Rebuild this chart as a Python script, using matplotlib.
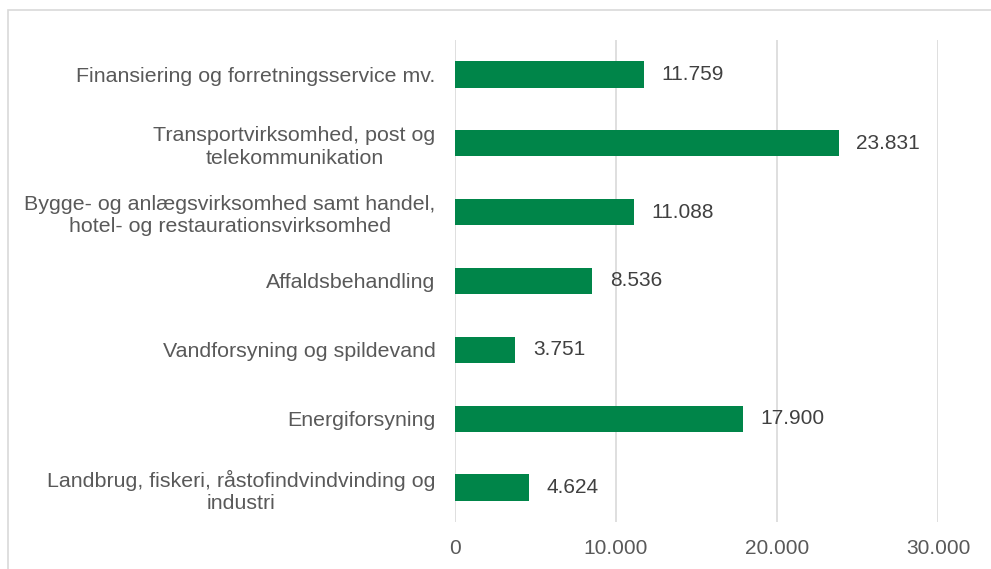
import matplotlib
matplotlib.use("Agg")
import matplotlib.pyplot as plt
from matplotlib.patches import Rectangle

categories = [
    "Finansiering og forretningsservice mv.",
    "Transportvirksomhed, post og\ntelekommunikation",
    "Bygge- og anlægsvirksomhed samt handel,\nhotel- og restaurationsvirksomhed",
    "Affaldsbehandling",
    "Vandforsyning og spildevand",
    "Energiforsyning",
    "Landbrug, fiskeri, råstofindvindvinding og\nindustri",
]
values = [11759, 23831, 11088, 8536, 3751, 17900, 4624]
value_labels = ["11.759", "23.831", "11.088", "8.536", "3.751", "17.900", "4.624"]
xticks = [0, 10000, 20000, 30000]
xtick_labels = ["0", "10.000", "20.000", "30.000"]

plt.rcParams['font.family'] = ['Liberation Sans', 'DejaVu Sans']
W, H = 991, 569
fig = plt.figure(figsize=(W / 100, H / 100), dpi=100)
fig.patch.set_facecolor("white")
fig.add_artist(Rectangle((8 / W, -0.1), 1.1, 1 - 10 / H + 0.1, transform=fig.transFigure,
                         fill=False, edgecolor="#D9D9D9", linewidth=1.2))

ax = fig.add_axes([455 / W, 1 - 522 / H, (938 - 455) / W, (522 - 40) / H])
ypos = list(range(len(categories)))
ax.barh(ypos, values, height=0.38, color="#008549", zorder=3)
ax.set_ylim(len(categories) - 0.5, -0.5)
ax.set_xlim(0, 30000)
ax.set_xticks(xticks)
ax.set_xticklabels(xtick_labels, fontsize=15, color="#595959")
ax.set_yticks(ypos)
ax.set_yticklabels(categories, fontsize=15.4, color="#595959", linespacing=1.22,
                   multialignment="center")
ax.tick_params(axis="both", length=0)
ax.tick_params(axis="x", pad=12)
ax.tick_params(axis="y", pad=14)
for s in ax.spines.values():
    s.set_visible(False)
ax.xaxis.grid(True, color="#D9D9D9", linewidth=1.2, zorder=0)
ax.set_axisbelow(True)

for y, v, lab in zip(ypos, values, value_labels):
    ax.annotate(lab, (v, y), xytext=(12.5, 0), textcoords="offset points",
                va="center", ha="left", fontsize=15, color="#404040")

fig.savefig("out.png", dpi=100)
